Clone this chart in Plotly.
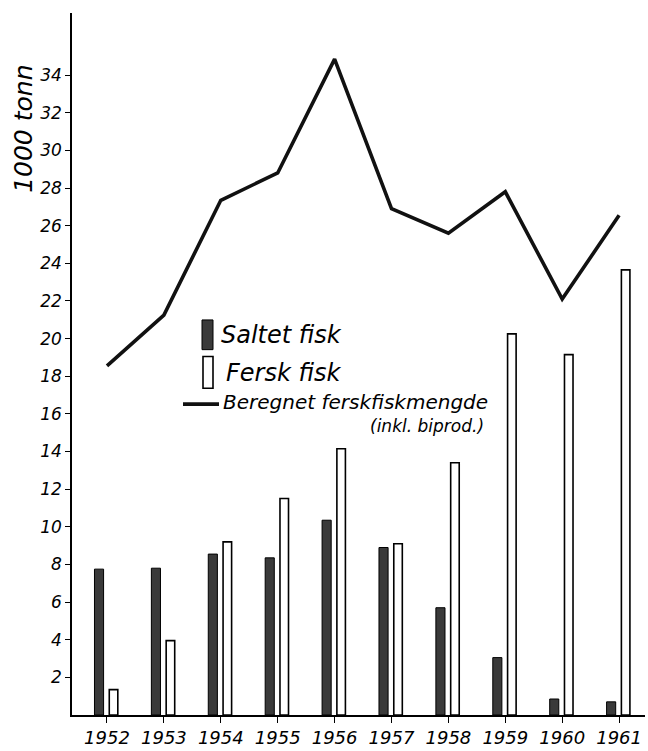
import plotly.graph_objects as go

years = [1952, 1953, 1954, 1955, 1956, 1957, 1958, 1959, 1960, 1961]
saltet = [7.75, 7.8, 8.55, 8.35, 10.35, 8.9, 5.7, 3.05, 0.85, 0.7]
fersk = [1.35, 3.95, 9.2, 11.5, 14.15, 9.1, 13.4, 20.25, 19.15, 23.65]
beregnet = [18.55, 21.25, 27.35, 28.8, 34.85, 26.9, 25.6, 27.8, 22.1, 26.55]
y_ticks = list(range(2, 36, 2))
labels = ["Saltet fisk", "Fersk fisk", "Beregnet ferskfiskmengde", "(inkl. biprod.)"]
y_title = "1000 tonn"

FONT = "DejaVu Sans"
W, H = 648, 751
L, R, T, B = 72, 3, 13, 29
pw, ph = W - L - R, H - T - B


def px(x):
    return (x - L) / pw


def py(y):
    return (H - B - y) / ph


fig = go.Figure()
fig.add_trace(go.Bar(
    x=years, y=saltet, name=labels[0], width=0.16, offset=-0.22,
    marker=dict(color="#3a3a3a", line=dict(color="black", width=1)),
    showlegend=False,
))
fig.add_trace(go.Bar(
    x=years, y=fersk, name=labels[1], width=0.15, offset=0.04,
    marker=dict(color="white", line=dict(color="black", width=1.6)),
    showlegend=False,
))
fig.add_trace(go.Scatter(
    x=years, y=beregnet, mode="lines", name=labels[2],
    line=dict(color="#111", width=3.6),
    showlegend=False,
))

shapes = [
    dict(type="rect", xref="paper", yref="paper", x0=px(202), x1=px(213), y0=py(353), y1=py(323),
         fillcolor="#3a3a3a", line=dict(color="black", width=1)),
    dict(type="rect", xref="paper", yref="paper", x0=px(203), x1=px(213), y0=py(392), y1=py(360),
         fillcolor="white", line=dict(color="black", width=1.6)),
    dict(type="line", xref="paper", yref="paper", x0=px(183), x1=px(219), y0=py(408), y1=py(408),
         line=dict(color="#111", width=3.6)),
]

ann_font = dict(family=FONT, size=24, color="black", style="italic")
annotations = [
    dict(xref="paper", yref="paper", x=px(219), y=py(338), text=labels[0], showarrow=False,
         xanchor="left", yanchor="middle", font=ann_font),
    dict(xref="paper", yref="paper", x=px(224), y=py(377), text=labels[1], showarrow=False,
         xanchor="left", yanchor="middle", font=ann_font),
    dict(xref="paper", yref="paper", x=px(222), y=py(406), text=labels[2], showarrow=False,
         xanchor="left", yanchor="middle", borderpad=0,
         font=dict(family=FONT, size=20, color="black", style="italic")),
    dict(xref="paper", yref="paper", x=px(485), y=py(430), text=labels[3], showarrow=False,
         xanchor="right", yanchor="middle", borderpad=0,
         font=dict(family=FONT, size=17, color="black", style="italic")),
    dict(xref="paper", yref="paper", x=px(24), y=py(130), text=y_title, showarrow=False,
         textangle=-90, xanchor="center", yanchor="middle",
         font=dict(family=FONT, size=25, color="black", style="italic")),
]

fig.update_layout(
    width=W, height=H,
    margin=dict(l=L, r=R, t=T, b=B, pad=0),
    paper_bgcolor="white", plot_bgcolor="white",
    barmode="overlay",
    shapes=shapes, annotations=annotations,
    font=dict(family=FONT, color="black"),
)
fig.update_xaxes(
    range=[1951.385, 1961.455], tickmode="array", tickvals=years,
    ticktext=[str(y) for y in years],
    showgrid=False, zeroline=False, showline=True, linecolor="black", linewidth=1.5,
    ticks="outside", ticklen=6, tickcolor="black", tickwidth=1.3,
    tickfont=dict(family=FONT, size=18, color="black", style="italic"),
)
fig.update_yaxes(
    range=[0, 37.3], tickmode="array", tickvals=y_ticks,
    ticktext=[str(v) for v in y_ticks],
    showgrid=False, zeroline=False, showline=True, linecolor="black", linewidth=1.5,
    ticks="outside", ticklen=5, tickcolor="black", tickwidth=1.3,
    tickfont=dict(family=FONT, size=17, color="black", style="italic"),
)

fig.write_html("out.html", config={"displayModeBar": False},
               post_script="document.body.style.margin='0';")
